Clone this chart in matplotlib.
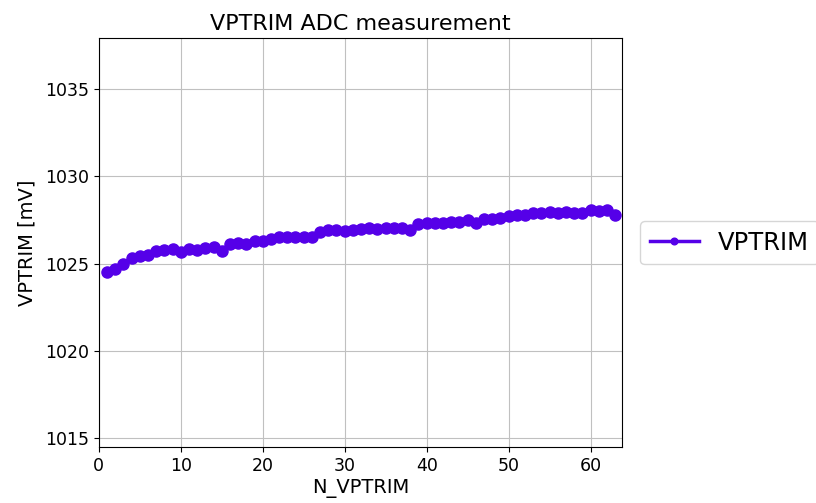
import matplotlib
matplotlib.use("Agg")
import matplotlib.pyplot as plt

n_vptrim = list(range(1, 64))
vptrim_mv = [
    1024.55, 1024.7, 1025.0, 1025.35, 1025.45, 1025.5, 1025.75, 1025.8, 1025.85, 1025.65,
    1025.85, 1025.8, 1025.9, 1025.95, 1025.75, 1026.15, 1026.2, 1026.1, 1026.3, 1026.3,
    1026.4, 1026.5, 1026.5, 1026.5, 1026.5, 1026.5, 1026.8, 1026.95, 1026.95, 1026.85,
    1026.95, 1027.0, 1027.05, 1027.0, 1027.05, 1027.05, 1027.05, 1026.95, 1027.25, 1027.3,
    1027.35, 1027.3, 1027.4, 1027.4, 1027.5, 1027.3, 1027.55, 1027.55, 1027.6, 1027.75,
    1027.8, 1027.8, 1027.9, 1027.9, 1027.95, 1027.9, 1027.95, 1027.9, 1027.9, 1028.05,
    1028.0, 1028.05, 1027.8,
]

fig = plt.figure(figsize=(8.16, 5.03), dpi=100)
ax = fig.add_axes([0.121, 0.111, 0.641, 0.813])
ax.plot(n_vptrim, vptrim_mv, "-o", color="#5500e8", lw=2.5, ms=8, label="VPTRIM")
ax.set_xlim(0, 63.8)
ax.set_ylim(1014.5, 1037.9)
ax.set_yticks([1015, 1020, 1025, 1030, 1035])
ax.grid(True, color="#c0c0c0")
ax.tick_params(labelsize=12.5)
ax.set_title("VPTRIM ADC measurement", fontsize=16)
ax.set_xlabel("N_VPTRIM", fontsize=14, labelpad=3)
ax.set_ylabel("VPTRIM [mV]", fontsize=14, labelpad=6)
ax.legend(loc="center left", bbox_to_anchor=(1.012, 0.5), fontsize=17.5, markerscale=0.6)

fig.savefig("out.png", dpi=100)
